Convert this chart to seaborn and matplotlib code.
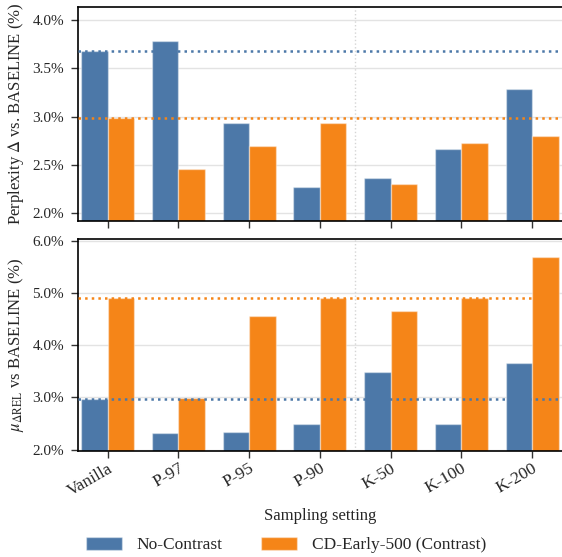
import matplotlib
matplotlib.use('Agg')
import matplotlib.pyplot as plt
import seaborn as sns
import pandas as pd

SETTINGS = ['Vanilla', 'P-97', 'P-95', 'P-90', 'K-50', 'K-100', 'K-200']
METHODS = ['No-Contrast', 'CD-Early-500 (Contrast)']

# perplexity delta vs baseline (%)
ppl_no_contrast = [3.68, 3.78, 2.93, 2.27, 2.36, 2.66, 3.29]
ppl_contrast = [2.98, 2.46, 2.69, 2.93, 2.30, 2.73, 2.80]

# mu delta REL vs baseline (%)
rel_no_contrast = [2.97, 2.31, 2.34, 2.49, 3.48, 2.50, 3.65]
rel_contrast = [4.91, 2.98, 4.55, 4.91, 4.65, 4.90, 5.69]

BLUE = '#4c78a8'
ORANGE = '#f58518'

sns.set_style('white')
plt.rcParams['font.family'] = ['Liberation Serif', 'DejaVu Serif']
plt.rcParams['mathtext.fontset'] = 'stix'
plt.rcParams['font.size'] = 12


def long_df(a, b):
    rows = []
    for s, v in zip(SETTINGS, a):
        rows.append({'setting': s, 'method': METHODS[0], 'value': v})
    for s, v in zip(SETTINGS, b):
        rows.append({'setting': s, 'method': METHODS[1], 'value': v})
    return pd.DataFrame(rows)


fig = plt.figure(figsize=(5.62, 5.57), dpi=100)
ax1 = fig.add_axes([0.1388, 0.6032, 0.862, 0.3842])
ax2 = fig.add_axes([0.1388, 0.1903, 0.862, 0.3806])

panels = [
    (ax1, long_df(ppl_no_contrast, ppl_contrast), (1.917, 4.135), [2.0, 2.5, 3.0, 3.5, 4.0],
     'Perplexity $\\Delta$ vs. BASELINE (%)', ppl_no_contrast[0], ppl_contrast[0]),
    (ax2, long_df(rel_no_contrast, rel_contrast), (1.975, 6.03), [2.0, 3.0, 4.0, 5.0, 6.0],
     '$\\mu_{\\Delta\\mathrm{REL}}$ vs BASELINE (%)', rel_no_contrast[0], rel_contrast[0]),
]

for ax, df, ylim, yticks, ylabel, ref_a, ref_b in panels:
    sns.barplot(data=df, x='setting', y='value', hue='method', order=SETTINGS,
                hue_order=METHODS, palette=[BLUE, ORANGE], saturation=1,
                width=0.75, errorbar=None, ax=ax, edgecolor=(1, 1, 1, 0.4),
                linewidth=1, legend=True, zorder=2)
    ax.set_ylim(*ylim)
    ax.set_xlim(-0.42, 6.43)
    ax.set_yticks(yticks)
    ax.set_yticklabels(['%.1f%%' % t for t in yticks])
    ax.yaxis.grid(True, color='#e3e3e3', lw=1, zorder=0)
    ax.set_axisbelow(True)
    ax.axvline(3.5, color='#d5d5d5', ls=':', lw=1, zorder=1)
    ax.axhline(ref_a, color=BLUE, ls=':', lw=1.8, zorder=3)
    ax.axhline(ref_b, color=ORANGE, ls=':', lw=1.8, zorder=3)
    ax.set_ylabel(ylabel, fontsize=12, labelpad=5)
    ax.set_xlabel('')
    for sp in ax.spines.values():
        sp.set_color('black')
        sp.set_linewidth(1.2)
    ax.spines['right'].set_visible(False)
    ax.tick_params(axis='both', which='both', direction='out', length=5,
                   width=1, color='#333333', left=True, bottom=True)
    ax.tick_params(axis='y', labelsize=11, pad=5)
    ax.tick_params(axis='x', labelsize=12.5, pad=2)

handles, labels = ax1.get_legend_handles_labels()
ax1.get_legend().remove()
ax2.get_legend().remove()

ax1.set_xticklabels([])
ax2.set_xticks(range(len(SETTINGS)))
ax2.set_xticklabels(SETTINGS, rotation=30, ha='right', rotation_mode='anchor')
ax2.set_xlabel('Sampling setting', fontsize=12, labelpad=6)

leg = fig.legend(handles, labels, loc='center', bbox_to_anchor=(0.509, 1 - 545 / 557),
                 ncol=2, frameon=False, fontsize=12.5, handlelength=2.05,
                 handleheight=0.75, handletextpad=0.86, columnspacing=2.2)

fig.savefig('out.png', dpi=100)
